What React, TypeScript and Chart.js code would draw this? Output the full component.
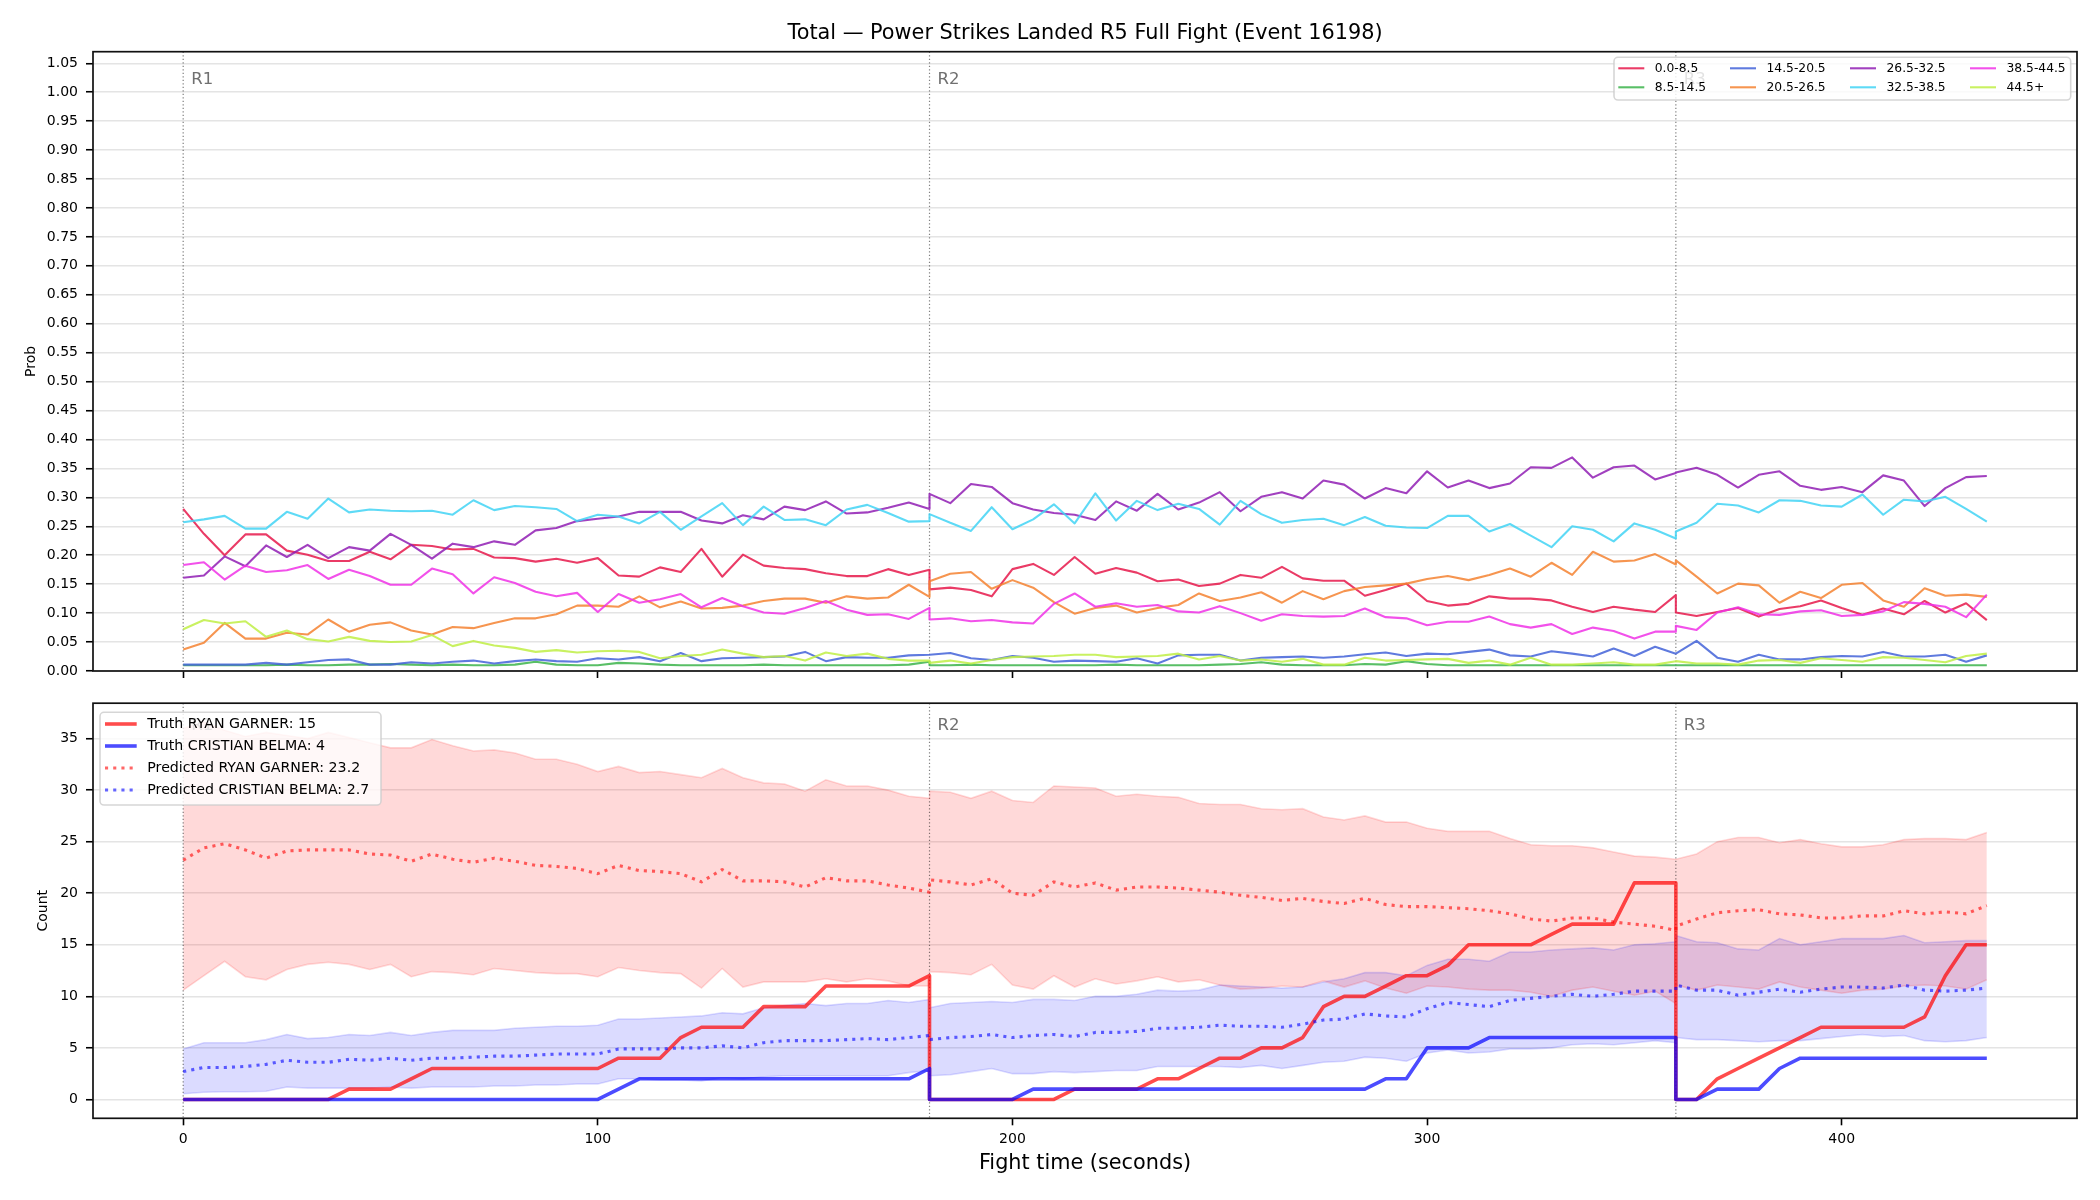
import { useEffect, useRef } from 'react';
import { Chart, registerables } from 'chart.js';

Chart.register(...registerables);

// ---------- text ----------
const TITLE = 'Total — Power Strikes Landed R5 Full Fight (Event 16198)';
const X_LABEL = 'Fight time (seconds)';
const TOP_Y_LABEL = 'Prob';
const BOTTOM_Y_LABEL = 'Count';

// ---------- rounds ----------
const ROUND_STARTS = [0, 180, 360];
const ROUND_LABELS = ['R1', 'R2', 'R3'];

// sample times in seconds; every round restarts its counts, so 180 and 360 appear twice
const TIMES = [
  0, 5, 10, 15, 20, 25, 30, 35, 40, 45, 50, 55, 60, 65, 70, 75, 80, 85, 90, 95, 100, 105, 110, 115, 120, 125, 130, 135, 140, 145, 150, 155, 160, 165, 170, 175, 180,
  180, 185, 190, 195, 200, 205, 210, 215, 220, 225, 230, 235, 240, 245, 250, 255, 260, 265, 270, 275, 280, 285, 290, 295, 300, 305, 310, 315, 320, 325, 330, 335, 340, 345, 350, 355, 360,
  360, 365, 370, 375, 380, 385, 390, 395, 400, 405, 410, 415, 420, 425, 430, 435,
];

// ---------- top panel: probability of each total-count bin ----------
const BIN_LABELS = ['0.0-8.5', '8.5-14.5', '14.5-20.5', '20.5-26.5', '26.5-32.5', '32.5-38.5', '38.5-44.5', '44.5+'];
const BIN_COLORS = ['#e6194b', '#3cb44b', '#4363d8', '#f58231', '#911eb4', '#42d4f4', '#f032e6', '#bfef45'];

const PROB_0_8 = [
  0.280, 0.237, 0.200, 0.236, 0.236, 0.208, 0.201, 0.190, 0.190, 0.206, 0.193, 0.218, 0.216, 0.210, 0.211, 0.196, 0.195, 0.189, 0.194, 0.187,
  0.195, 0.165, 0.163, 0.179, 0.171, 0.211, 0.163, 0.201, 0.182, 0.178, 0.176, 0.169, 0.164, 0.164, 0.176, 0.166, 0.175,
  0.141, 0.144, 0.140, 0.129, 0.176, 0.185, 0.166, 0.197, 0.168, 0.178, 0.170, 0.155, 0.158, 0.147, 0.151, 0.166, 0.161, 0.180, 0.160, 0.156,
  0.156, 0.130, 0.140, 0.151, 0.121, 0.113, 0.116, 0.129, 0.125, 0.125, 0.122, 0.111, 0.102, 0.111, 0.106, 0.102, 0.131,
  0.101, 0.095, 0.102, 0.109, 0.094, 0.107, 0.112, 0.122, 0.109, 0.097, 0.108, 0.098, 0.121, 0.101, 0.117, 0.088,
];
const PROB_8_14 = [
  0.010, 0.010, 0.010, 0.010, 0.010, 0.011, 0.010, 0.010, 0.011, 0.011, 0.012, 0.011, 0.010, 0.011, 0.010, 0.010, 0.011, 0.016, 0.011, 0.010,
  0.010, 0.014, 0.013, 0.011, 0.010, 0.010, 0.010, 0.010, 0.011, 0.010, 0.010, 0.010, 0.010, 0.010, 0.010, 0.011, 0.016,
  0.010, 0.010, 0.011, 0.010, 0.010, 0.010, 0.010, 0.010, 0.010, 0.011, 0.010, 0.010, 0.010, 0.010, 0.011, 0.012, 0.015, 0.011, 0.010, 0.010,
  0.010, 0.012, 0.011, 0.017, 0.012, 0.010, 0.010, 0.010, 0.010, 0.010, 0.010, 0.010, 0.010, 0.010, 0.010, 0.010, 0.010,
  0.010, 0.010, 0.010, 0.010, 0.010, 0.010, 0.010, 0.010, 0.010, 0.010, 0.010, 0.010, 0.010, 0.010, 0.010, 0.010,
];
const PROB_14_20 = [
  0.011, 0.011, 0.011, 0.011, 0.014, 0.011, 0.015, 0.019, 0.020, 0.011, 0.011, 0.015, 0.013, 0.016, 0.018, 0.013, 0.017, 0.020, 0.017, 0.016,
  0.022, 0.020, 0.024, 0.017, 0.031, 0.017, 0.022, 0.023, 0.024, 0.025, 0.033, 0.017, 0.024, 0.023, 0.023, 0.027, 0.028,
  0.028, 0.031, 0.022, 0.019, 0.026, 0.023, 0.016, 0.018, 0.017, 0.016, 0.022, 0.013, 0.027, 0.028, 0.028, 0.018, 0.023, 0.024, 0.025, 0.023,
  0.025, 0.029, 0.032, 0.026, 0.030, 0.029, 0.033, 0.037, 0.027, 0.025, 0.034, 0.030, 0.025, 0.039, 0.026, 0.042, 0.030,
  0.030, 0.052, 0.023, 0.016, 0.028, 0.020, 0.020, 0.024, 0.026, 0.025, 0.033, 0.025, 0.025, 0.028, 0.016, 0.027,
];
const PROB_20_26 = [
  0.037, 0.049, 0.083, 0.056, 0.056, 0.066, 0.063, 0.089, 0.068, 0.080, 0.084, 0.070, 0.063, 0.076, 0.074, 0.083, 0.091, 0.091, 0.098, 0.113,
  0.113, 0.111, 0.129, 0.110, 0.120, 0.108, 0.109, 0.113, 0.121, 0.125, 0.125, 0.118, 0.129, 0.125, 0.127, 0.149, 0.128,
  0.155, 0.168, 0.171, 0.142, 0.157, 0.144, 0.119, 0.099, 0.109, 0.113, 0.101, 0.109, 0.114, 0.134, 0.121, 0.127, 0.136, 0.118, 0.138, 0.124,
  0.138, 0.145, 0.148, 0.151, 0.159, 0.164, 0.157, 0.166, 0.177, 0.163, 0.187, 0.166, 0.206, 0.189, 0.191, 0.202, 0.184,
  0.191, 0.163, 0.134, 0.151, 0.148, 0.118, 0.137, 0.126, 0.149, 0.152, 0.122, 0.111, 0.143, 0.130, 0.132, 0.128,
];
const PROB_26_32 = [
  0.161, 0.165, 0.198, 0.181, 0.217, 0.197, 0.218, 0.195, 0.214, 0.208, 0.237, 0.218, 0.194, 0.220, 0.214, 0.224, 0.218, 0.243, 0.247, 0.259,
  0.263, 0.267, 0.275, 0.275, 0.275, 0.260, 0.255, 0.269, 0.262, 0.284, 0.278, 0.293, 0.272, 0.274, 0.282, 0.291, 0.280,
  0.306, 0.290, 0.323, 0.318, 0.290, 0.279, 0.273, 0.270, 0.261, 0.293, 0.277, 0.306, 0.279, 0.291, 0.309, 0.276, 0.301, 0.309, 0.298, 0.329,
  0.322, 0.298, 0.316, 0.307, 0.345, 0.317, 0.329, 0.316, 0.324, 0.352, 0.351, 0.369, 0.334, 0.352, 0.355, 0.331, 0.342,
  0.343, 0.351, 0.339, 0.317, 0.339, 0.345, 0.320, 0.313, 0.318, 0.309, 0.338, 0.329, 0.285, 0.316, 0.335, 0.337,
];
const PROB_32_38 = [
  0.257, 0.262, 0.268, 0.246, 0.246, 0.275, 0.263, 0.298, 0.274, 0.279, 0.277, 0.276, 0.277, 0.270, 0.295, 0.278, 0.285, 0.283, 0.280, 0.259,
  0.270, 0.267, 0.255, 0.275, 0.244, 0.267, 0.290, 0.252, 0.284, 0.261, 0.262, 0.252, 0.279, 0.287, 0.273, 0.258, 0.259,
  0.271, 0.256, 0.242, 0.283, 0.245, 0.262, 0.288, 0.255, 0.307, 0.260, 0.294, 0.278, 0.289, 0.280, 0.253, 0.294, 0.271, 0.256, 0.261, 0.263,
  0.252, 0.266, 0.251, 0.248, 0.247, 0.268, 0.268, 0.241, 0.254, 0.234, 0.214, 0.250, 0.244, 0.224, 0.255, 0.244, 0.229,
  0.241, 0.256, 0.289, 0.286, 0.274, 0.295, 0.294, 0.286, 0.284, 0.305, 0.270, 0.296, 0.293, 0.301, 0.280, 0.258,
];
const PROB_38_44 = [
  0.183, 0.188, 0.158, 0.182, 0.171, 0.174, 0.183, 0.159, 0.175, 0.164, 0.149, 0.149, 0.177, 0.167, 0.134, 0.162, 0.152, 0.137, 0.129, 0.135,
  0.102, 0.133, 0.118, 0.124, 0.133, 0.110, 0.126, 0.112, 0.101, 0.099, 0.109, 0.121, 0.106, 0.097, 0.098, 0.090, 0.109,
  0.089, 0.091, 0.086, 0.088, 0.084, 0.082, 0.116, 0.134, 0.111, 0.117, 0.111, 0.114, 0.103, 0.101, 0.112, 0.100, 0.087, 0.098, 0.095, 0.094,
  0.095, 0.108, 0.093, 0.091, 0.079, 0.085, 0.085, 0.094, 0.081, 0.075, 0.081, 0.064, 0.075, 0.069, 0.056, 0.068, 0.068,
  0.078, 0.071, 0.101, 0.110, 0.098, 0.097, 0.103, 0.105, 0.095, 0.097, 0.103, 0.119, 0.116, 0.111, 0.093, 0.132,
];
const PROB_44_UP = [
  0.072, 0.088, 0.082, 0.086, 0.059, 0.070, 0.055, 0.051, 0.059, 0.052, 0.050, 0.051, 0.062, 0.043, 0.052, 0.044, 0.040, 0.033, 0.036, 0.032,
  0.034, 0.035, 0.033, 0.022, 0.026, 0.028, 0.037, 0.030, 0.024, 0.026, 0.018, 0.032, 0.026, 0.030, 0.021, 0.018, 0.018,
  0.014, 0.018, 0.013, 0.019, 0.024, 0.025, 0.026, 0.028, 0.028, 0.024, 0.025, 0.026, 0.030, 0.020, 0.026, 0.018, 0.020, 0.016, 0.021, 0.011,
  0.011, 0.023, 0.018, 0.019, 0.020, 0.021, 0.014, 0.018, 0.011, 0.023, 0.011, 0.011, 0.013, 0.015, 0.011, 0.011, 0.017,
  0.017, 0.013, 0.013, 0.011, 0.018, 0.019, 0.014, 0.022, 0.019, 0.016, 0.024, 0.023, 0.019, 0.015, 0.026, 0.030,
];
const BIN_SERIES = [PROB_0_8, PROB_8_14, PROB_14_20, PROB_20_26, PROB_26_32, PROB_32_38, PROB_38_44, PROB_44_UP];

// ---------- bottom panel: running counts per fighter ----------
const FIGHTER_RED = 'RYAN GARNER';
const FIGHTER_BLUE = 'CRISTIAN BELMA';

const TRUTH_RED = [
  0, 0, 0, 0, 0, 0, 0, 0, 1, 1, 1, 2, 3, 3, 3, 3, 3, 3, 3, 3, 3, 4, 4, 4, 6, 7, 7, 7, 9, 9, 9, 11, 11, 11, 11, 11, 12,
  0, 0, 0, 0, 0, 0, 0, 1, 1, 1, 1, 2, 2, 3, 4, 4, 5, 5, 6, 9, 10, 10, 11, 12, 12, 13, 15, 15, 15, 15, 16, 17, 17, 17, 21, 21, 21,
  0, 0, 2, 3, 4, 5, 6, 7, 7, 7, 7, 7, 8, 12, 15, 15,
];
const TRUTH_BLUE = [
  0, 0, 0, 0, 0, 0, 0, 0, 0, 0, 0, 0, 0, 0, 0, 0, 0, 0, 0, 0, 0, 1, 2, 2, 2, 2, 2, 2, 2, 2, 2, 2, 2, 2, 2, 2, 3,
  0, 0, 0, 0, 0, 1, 1, 1, 1, 1, 1, 1, 1, 1, 1, 1, 1, 1, 1, 1, 1, 1, 2, 2, 5, 5, 5, 6, 6, 6, 6, 6, 6, 6, 6, 6, 6,
  0, 0, 1, 1, 1, 3, 4, 4, 4, 4, 4, 4, 4, 4, 4, 4,
];
const PRED_RED = [
  23.2, 24.4, 24.8, 24.2, 23.4, 24.1, 24.2, 24.2, 24.2, 23.8, 23.7, 23.1, 23.8, 23.3, 23.0, 23.4, 23.1, 22.7, 22.6, 22.4,
  21.9, 22.7, 22.2, 22.1, 21.9, 21.1, 22.3, 21.2, 21.2, 21.1, 20.6, 21.5, 21.2, 21.2, 20.8, 20.5, 20.1,
  21.3, 21.1, 20.8, 21.4, 20.0, 19.8, 21.1, 20.6, 21.0, 20.3, 20.6, 20.6, 20.5, 20.3, 20.1, 19.8, 19.6, 19.3, 19.5, 19.2,
  19.0, 19.5, 18.9, 18.7, 18.7, 18.6, 18.5, 18.3, 18.0, 17.5, 17.3, 17.6, 17.6, 17.2, 17.0, 16.8, 16.4,
  16.8, 17.5, 18.1, 18.3, 18.4, 18.0, 17.9, 17.6, 17.6, 17.8, 17.8, 18.3, 18.0, 18.2, 18.0, 18.8,
];
const PRED_RED_HIGH = [
  36.0, 36.6, 35.8, 35.2, 35.6, 35.3, 35.0, 35.6, 35.1, 34.6, 34.1, 34.1, 34.9, 34.3, 33.8, 33.9, 33.6, 33.0, 33.0, 32.5,
  31.8, 32.3, 31.7, 31.8, 31.5, 31.2, 32.1, 31.2, 30.7, 30.6, 29.9, 31.0, 30.4, 30.4, 30.0, 29.4, 29.2,
  29.9, 29.8, 29.2, 29.9, 29.0, 28.8, 30.4, 30.3, 30.2, 29.4, 29.6, 29.4, 29.3, 28.7, 28.6, 28.6, 28.2, 28.1, 28.2, 27.4,
  27.1, 27.5, 26.9, 26.9, 26.3, 26.0, 26.0, 26.0, 25.3, 24.7, 24.6, 24.6, 24.4, 24.0, 23.6, 23.5, 23.3,
  23.3, 23.8, 25.0, 25.4, 25.4, 24.9, 25.2, 24.8, 24.5, 24.5, 24.7, 25.2, 25.3, 25.3, 25.2, 25.9,
];
const PRED_RED_LOW = [
  10.6, 12.0, 13.4, 11.9, 11.6, 12.6, 13.1, 13.3, 13.1, 12.6, 13.1, 11.9, 12.4, 12.3, 12.1, 12.7, 12.5, 12.3, 12.2, 12.2,
  11.9, 12.8, 12.5, 12.3, 12.2, 10.8, 12.7, 10.9, 11.4, 11.4, 11.4, 11.7, 11.4, 11.7, 11.5, 11.0, 11.0,
  12.4, 12.3, 12.1, 13.1, 11.1, 10.7, 12.0, 10.9, 11.7, 11.2, 11.5, 11.9, 11.4, 11.6, 11.1, 10.7, 10.8, 11.0, 10.9, 11.5,
  10.9, 11.5, 10.8, 10.3, 11.0, 10.9, 10.7, 10.6, 10.6, 10.4, 10.0, 10.6, 10.9, 10.5, 10.1, 10.5, 9.3,
  11.1, 10.6, 11.1, 10.9, 10.7, 11.4, 10.9, 10.6, 10.3, 10.6, 10.7, 11.0, 11.1, 11.0, 10.7, 11.6,
];
const PRED_BLUE = [
  2.7, 3.1, 3.1, 3.2, 3.4, 3.8, 3.6, 3.6, 3.9, 3.8, 4.0, 3.8, 4.0, 4.0, 4.1, 4.2, 4.2, 4.3, 4.4, 4.4,
  4.4, 4.9, 4.9, 4.9, 5.0, 5.0, 5.2, 5.0, 5.5, 5.7, 5.7, 5.7, 5.8, 5.9, 5.8, 6.0, 6.2,
  5.8, 6.0, 6.1, 6.3, 6.0, 6.2, 6.3, 6.1, 6.5, 6.5, 6.6, 6.9, 6.9, 7.0, 7.2, 7.1, 7.1, 7.0, 7.3, 7.7,
  7.8, 8.3, 8.1, 8.0, 8.8, 9.4, 9.2, 9.0, 9.6, 9.8, 10.0, 10.2, 10.0, 10.2, 10.5, 10.5, 10.5,
  11.1, 10.6, 10.6, 10.1, 10.4, 10.7, 10.4, 10.7, 10.9, 10.9, 10.8, 11.1, 10.6, 10.5, 10.6, 10.8,
];
const PRED_BLUE_HIGH = [
  4.9, 5.5, 5.5, 5.5, 5.8, 6.3, 5.9, 6.0, 6.3, 6.2, 6.5, 6.2, 6.5, 6.7, 6.7, 6.7, 6.9, 7.0, 7.1, 7.1,
  7.2, 7.8, 7.8, 7.9, 8.0, 8.1, 8.4, 8.3, 8.9, 9.1, 9.3, 9.1, 9.3, 9.3, 9.6, 9.4, 9.7,
  8.9, 9.3, 9.4, 9.5, 9.4, 9.7, 9.7, 9.6, 10.0, 10.0, 10.2, 10.6, 10.5, 10.6, 11.1, 11.0, 10.9, 10.8, 10.9, 11.4,
  11.7, 12.3, 12.3, 12.0, 13.0, 13.6, 13.6, 13.4, 14.3, 14.3, 14.5, 14.6, 14.7, 14.5, 15.0, 15.1, 15.3,
  15.9, 15.3, 15.2, 14.6, 14.5, 15.6, 15.0, 15.3, 15.6, 15.6, 15.6, 15.9, 15.2, 15.3, 15.4, 15.4,
];
const PRED_BLUE_LOW = [
  0.55, 0.7, 0.75, 0.75, 0.8, 1.2, 1.1, 1.1, 1.1, 1.1, 1.2, 1.1, 1.2, 1.2, 1.2, 1.3, 1.3, 1.4, 1.4, 1.5,
  1.5, 2.0, 2.0, 1.9, 1.9, 1.8, 2.1, 2.0, 2.2, 2.3, 2.3, 2.3, 2.3, 2.3, 2.3, 2.6, 2.8,
  2.3, 2.4, 2.7, 3.0, 2.5, 2.5, 2.7, 2.6, 2.7, 2.8, 2.8, 3.2, 3.2, 3.2, 3.2, 3.1, 3.3, 3.0, 3.3, 3.6,
  3.7, 4.1, 4.0, 3.7, 4.5, 4.8, 4.5, 4.6, 4.9, 4.9, 5.0, 5.3, 5.4, 5.3, 5.5, 5.7, 5.5,
  6.0, 5.8, 5.8, 5.7, 5.6, 5.7, 5.7, 5.9, 6.1, 6.3, 6.1, 6.2, 5.7, 5.6, 5.7, 6.0,
];

// ---------- axes ----------
const X_TICKS = [0, 100, 200, 300, 400];
const PROB_TICKS = [0, 0.05, 0.1, 0.15, 0.2, 0.25, 0.3, 0.35, 0.4, 0.45, 0.5, 0.55, 0.6, 0.65, 0.7, 0.75, 0.8, 0.85, 0.9, 0.95, 1.0, 1.05];
const COUNT_TICKS = [0, 5, 10, 15, 20, 25, 30, 35];
const X_RANGE = [-21.75, 456.75];
const PROB_RANGE = [0, 1.07];
const COUNT_RANGE = [-1.83, 38.43];

// ---------- layout (page pixels) ----------
const FONT = "'DejaVu Sans', 'Liberation Sans', sans-serif";
const PAGE_W = 2100;
const PLOT_LEFT = 93;
const PLOT_RIGHT = 2077;
const TOP_CANVAS_H = 700;
const TOP_PLOT_TOP = 51.7;
const TOP_PLOT_BOTTOM = 671;
const BOT_CANVAS_TOP = 672;
const BOT_CANVAS_H = 528;
const BOT_PLOT_TOP = 703.2;
const BOT_PLOT_BOTTOM = 1118.3;

const TICK_FONT = 14;
const TICK_LEN = 7;
const GRID_COLOR = '#e4e4e4';

function rgba(hex: string, a: number): string {
  const n = parseInt(hex.slice(1), 16);
  return `rgba(${(n >> 16) & 255},${(n >> 8) & 255},${n & 255},${a})`;
}

const RED_TRUTH = 'rgba(255,0,0,0.7)';
const BLUE_TRUTH = 'rgba(0,0,255,0.7)';
const RED_PRED = 'rgba(255,0,0,0.6)';
const BLUE_PRED = 'rgba(0,0,255,0.6)';
const RED_BAND = 'rgba(255,0,0,0.15)';
const BLUE_BAND = 'rgba(0,0,255,0.14)';
const PRED_DASH = [3.1, 5.1];

type LegendItem = { label: string; color: string; width: number; dash: number[]; x: number; y: number; len: number; textX: number };
type LegendSpec = { box: [number, number, number, number]; font: number; items: LegendItem[] };

const TOP_LEGEND_COLS = [1618.3, 1730, 1850, 1970];
const TOP_LEGEND_ROWS = [68.3, 87.3];
const TOP_LEGEND: LegendSpec = {
  box: [1614, 57.3, 2070.7, 100],
  font: 12.3,
  items: BIN_LABELS.map((label, i) => ({
    label,
    color: rgba(BIN_COLORS[i], 0.85),
    width: 2.1,
    dash: [],
    x: TOP_LEGEND_COLS[Math.floor(i / 2)],
    y: TOP_LEGEND_ROWS[i % 2],
    len: 26,
    textX: TOP_LEGEND_COLS[Math.floor(i / 2)] + 36.5,
  })),
};

const last = (a: number[]) => a[a.length - 1];
const BOT_LEGEND_ROWS = [724, 746, 768, 790];
const BOT_LEGEND: LegendSpec = {
  box: [100, 712.3, 381, 805],
  font: 14.2,
  items: [
    { label: `Truth ${FIGHTER_RED}: ${last(TRUTH_RED)}`, color: RED_TRUTH, width: 3.6, dash: [] },
    { label: `Truth ${FIGHTER_BLUE}: ${last(TRUTH_BLUE)}`, color: BLUE_TRUTH, width: 3.6, dash: [] },
    { label: `Predicted ${FIGHTER_RED}: ${PRED_RED[0].toFixed(1)}`, color: RED_PRED, width: 3.1, dash: PRED_DASH },
    { label: `Predicted ${FIGHTER_BLUE}: ${PRED_BLUE[0].toFixed(1)}`, color: BLUE_PRED, width: 3.1, dash: PRED_DASH },
  ].map((it, i) => ({ ...it, x: 105, y: BOT_LEGEND_ROWS[i], len: 31.7, textX: 147.3 })),
};

function drawLegend(ctx: CanvasRenderingContext2D, spec: LegendSpec, dy: number) {
  const [x0, y0, x1, y1] = spec.box;
  ctx.save();
  ctx.translate(0, -dy);
  ctx.beginPath();
  ctx.roundRect(x0, y0, x1 - x0, y1 - y0, 4);
  ctx.fillStyle = 'rgba(255,255,255,0.8)';
  ctx.fill();
  ctx.lineWidth = 1.6;
  ctx.strokeStyle = 'rgba(204,204,204,0.8)';
  ctx.stroke();
  ctx.font = `${spec.font}px ${FONT}`;
  ctx.textBaseline = 'middle';
  ctx.textAlign = 'left';
  for (const it of spec.items) {
    ctx.beginPath();
    ctx.setLineDash(it.dash);
    ctx.lineCap = 'butt';
    ctx.strokeStyle = it.color;
    ctx.lineWidth = it.width;
    ctx.moveTo(it.x, it.y);
    ctx.lineTo(it.x + it.len, it.y);
    ctx.stroke();
    ctx.setLineDash([]);
    ctx.fillStyle = '#000';
    ctx.fillText(it.label, it.textX, it.y + 0.5);
  }
  ctx.restore();
}

// round markers, frame, round labels, title and legend for one panel
function panelDecor(canvasTop: number, labelDy: number, legend: LegendSpec, withTitle: boolean) {
  return {
    id: 'panelDecor',
    beforeDatasetsDraw(chart: any) {
      const { ctx, chartArea: a } = chart;
      const xs = chart.scales.x;
      ctx.save();
      ctx.strokeStyle = 'rgba(0,0,0,0.5)';
      ctx.lineWidth = 1.2;
      ctx.setLineDash([1.3, 2.2]);
      for (const t of ROUND_STARTS) {
        const x = xs.getPixelForValue(t);
        ctx.beginPath();
        ctx.moveTo(x, a.top);
        ctx.lineTo(x, a.bottom);
        ctx.stroke();
      }
      ctx.restore();
    },
    afterDatasetsDraw(chart: any) {
      const { ctx, chartArea: a } = chart;
      const xs = chart.scales.x;
      ctx.save();
      ctx.font = `16.5px ${FONT}`;
      ctx.fillStyle = '#707070';
      ctx.textAlign = 'left';
      ctx.textBaseline = 'alphabetic';
      ROUND_STARTS.forEach((t, i) => {
        ctx.fillText(ROUND_LABELS[i], xs.getPixelForValue(t) + 8, a.top + labelDy);
      });
      ctx.strokeStyle = '#111';
      ctx.lineWidth = 1.7;
      ctx.strokeRect(a.left, a.top, a.right - a.left, a.bottom - a.top);
      if (withTitle) {
        ctx.font = `20.8px ${FONT}`;
        ctx.fillStyle = '#000';
        ctx.textAlign = 'center';
        ctx.fillText(TITLE, (a.left + a.right) / 2, 38.6 - canvasTop);
      }
      ctx.restore();
      drawLegend(ctx, legend, canvasTop);
    },
  };
}

const tickFont = { family: FONT, size: TICK_FONT };

function xScale(showLabels: boolean, height: number) {
  return {
    type: 'linear',
    min: X_RANGE[0],
    max: X_RANGE[1],
    bounds: 'data',
    afterBuildTicks: (s: any) => {
      s.ticks = X_TICKS.map((v) => ({ value: v }));
    },
    afterFit: (s: any) => {
      s.height = height;
    },
    grid: { drawOnChartArea: false, drawTicks: true, tickLength: TICK_LEN, tickColor: '#000', tickWidth: 1.6 },
    border: { display: false },
    ticks: { display: showLabels, font: tickFont, color: '#000', padding: 6, autoSkip: false, maxRotation: 0 },
    title: {
      display: showLabels,
      text: X_LABEL,
      color: '#000',
      font: { family: FONT, size: 20.8 },
      padding: { top: 0, bottom: 23.5 },
    },
  };
}

function yScale(range: number[], ticks: number[], fmt: (v: number) => string, label: string, labelPad: number) {
  return {
    type: 'linear',
    min: range[0],
    max: range[1],
    bounds: 'data',
    afterBuildTicks: (s: any) => {
      s.ticks = ticks.map((v) => ({ value: v }));
    },
    afterFit: (s: any) => {
      s.width = PLOT_LEFT;
    },
    grid: { color: GRID_COLOR, lineWidth: 1.5, drawTicks: true, tickLength: TICK_LEN, tickColor: '#000', tickWidth: 1.6 },
    border: { display: false },
    ticks: { font: tickFont, color: '#000', padding: 8, autoSkip: false, callback: (v: any) => fmt(Number(v)) },
    title: {
      display: true,
      text: label,
      color: '#000',
      font: { family: FONT, size: 14 },
      padding: { top: labelPad, bottom: 0 },
    },
  };
}

const points = (vals: number[]) => vals.map((v, i) => ({ x: TIMES[i], y: v }));

const baseOptions = {
  responsive: false,
  maintainAspectRatio: false,
  devicePixelRatio: 1,
  animation: false,
  events: [],
  elements: { point: { radius: 0, hoverRadius: 0 }, line: { tension: 0 } },
};

function topConfig(): any {
  return {
    type: 'line',
    data: {
      datasets: BIN_SERIES.map((vals, i) => ({
        label: BIN_LABELS[i],
        data: points(vals),
        borderColor: rgba(BIN_COLORS[i], 0.85),
        borderWidth: 2.1,
        borderJoinStyle: 'round',
        fill: false,
        pointRadius: 0,
        order: BIN_SERIES.length - i,
      })),
    },
    options: {
      ...baseOptions,
      layout: { padding: { top: TOP_PLOT_TOP, right: PAGE_W - PLOT_RIGHT, left: 0, bottom: 0 } },
      plugins: { legend: { display: false }, tooltip: { enabled: false }, title: { display: false } },
      scales: {
        x: xScale(false, TOP_CANVAS_H - TOP_PLOT_BOTTOM),
        y: yScale(PROB_RANGE, PROB_TICKS, (v) => v.toFixed(2), TOP_Y_LABEL, 22.5),
      },
    },
    plugins: [panelDecor(0, 84 - TOP_PLOT_TOP, TOP_LEGEND, true)],
  };
}

function bottomConfig(): any {
  const band = (vals: number[], color: string, fill: string | boolean) => ({
    data: points(vals),
    borderColor: color,
    backgroundColor: color,
    borderWidth: 1.6,
    fill,
    pointRadius: 0,
    order: 10,
  });
  const line = (vals: number[], color: string, width: number, dash: number[], order: number) => ({
    data: points(vals),
    borderColor: color,
    borderWidth: width,
    borderDash: dash,
    borderJoinStyle: 'round',
    borderCapStyle: 'butt',
    fill: false,
    pointRadius: 0,
    order,
  });
  return {
    type: 'line',
    data: {
      datasets: [
        band(PRED_RED_HIGH, RED_BAND, '+1'),
        band(PRED_RED_LOW, RED_BAND, false),
        band(PRED_BLUE_HIGH, BLUE_BAND, '+1'),
        band(PRED_BLUE_LOW, BLUE_BAND, false),
        line(TRUTH_RED, RED_TRUTH, 3.6, [], 4),
        line(TRUTH_BLUE, BLUE_TRUTH, 3.6, [], 3),
        line(PRED_RED, RED_PRED, 3.1, PRED_DASH, 2),
        line(PRED_BLUE, BLUE_PRED, 3.1, PRED_DASH, 1),
      ],
    },
    options: {
      ...baseOptions,
      layout: { padding: { top: BOT_PLOT_TOP - BOT_CANVAS_TOP, right: PAGE_W - PLOT_RIGHT, left: 0, bottom: 0 } },
      plugins: {
        legend: { display: false },
        tooltip: { enabled: false },
        title: { display: false },
        filler: { drawTime: 'beforeDatasetsDraw' },
      },
      scales: {
        x: xScale(true, BOT_CANVAS_TOP + BOT_CANVAS_H - BOT_PLOT_BOTTOM),
        y: yScale(COUNT_RANGE, COUNT_TICKS, (v) => String(v), BOTTOM_Y_LABEL, 35),
      },
    },
    plugins: [panelDecor(BOT_CANVAS_TOP, 729.5 - BOT_PLOT_TOP, BOT_LEGEND, false)],
  };
}

export default function App() {
  const topRef = useRef<HTMLCanvasElement>(null);
  const botRef = useRef<HTMLCanvasElement>(null);

  useEffect(() => {
    document.body.style.margin = '0';
    const top = new Chart(topRef.current as HTMLCanvasElement, topConfig());
    const bottom = new Chart(botRef.current as HTMLCanvasElement, bottomConfig());
    return () => {
      top.destroy();
      bottom.destroy();
    };
  }, []);

  return (
    <div style={{ position: 'relative', width: PAGE_W, height: 1200, background: '#fff', overflow: 'hidden' }}>
      <canvas
        ref={topRef}
        width={PAGE_W}
        height={TOP_CANVAS_H}
        style={{ position: 'absolute', left: 0, top: 0, width: PAGE_W, height: TOP_CANVAS_H }}
      />
      <canvas
        ref={botRef}
        width={PAGE_W}
        height={BOT_CANVAS_H}
        style={{ position: 'absolute', left: 0, top: BOT_CANVAS_TOP, width: PAGE_W, height: BOT_CANVAS_H }}
      />
    </div>
  );
}
